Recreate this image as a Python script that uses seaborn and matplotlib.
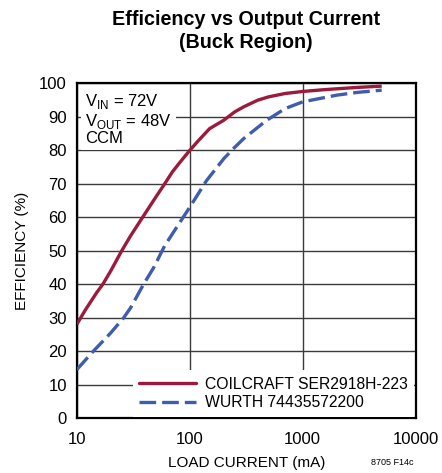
import matplotlib
matplotlib.use("Agg")
import matplotlib.pyplot as plt
import seaborn as sns
import pandas as pd

# --- Data ---
coil_ma = [10, 12, 15, 17, 20, 25, 30, 40, 50, 60, 70, 80, 100, 120, 150,
           200, 250, 300, 400, 500, 700, 1000, 1500, 2000, 3000, 5000]
coil_eff = [28, 32.5, 37.5, 40, 44, 50, 54.5, 61, 66, 70, 73.5, 76, 80, 83, 86.5,
            89, 91.5, 93, 95, 96, 97, 97.6, 98.1, 98.4, 98.8, 99.2]
wurth_ma = [10, 14, 20, 26, 30, 39, 48, 60, 80, 100, 141, 200, 243, 300, 480,
            700, 1000, 2000, 3000, 5000]
wurth_eff = [14.5, 20, 25.5, 30, 33, 40, 45, 51.5, 58, 63, 71, 77.5, 80.5, 83.5, 89,
             92.5, 94.5, 96.5, 97.3, 98]
series_names = ["COILCRAFT SER2918H-223", "WURTH 74435572200"]
x_ticks = [10, 100, 1000, 10000]
x_labels = ["10", "100", "1000", "10000"]
y_ticks = list(range(0, 101, 10))

df = pd.concat([
    pd.DataFrame({"current": coil_ma, "eff": coil_eff, "part": series_names[0]}),
    pd.DataFrame({"current": wurth_ma, "eff": wurth_eff, "part": series_names[1]}),
])

sns.set_style("white")
fam = "Liberation Sans"
plt.rcParams["font.family"] = [fam, "DejaVu Sans"]
plt.rcParams["mathtext.fontset"] = "custom"
plt.rcParams["mathtext.rm"] = fam
plt.rcParams["text.color"] = "black"
plt.rcParams["axes.labelcolor"] = "black"
plt.rcParams["xtick.color"] = "black"
plt.rcParams["ytick.color"] = "black"

fig = plt.figure(figsize=(4.42, 4.73), dpi=100)
ax = fig.add_axes([0.1735, 0.1156, 0.767, 0.708])

sns.lineplot(data=df, x="current", y="eff", hue="part", style="part",
             palette=["#9C1A3C", "#3F5DAE"], dashes=[(1, 0), (5, 1.8)],
             linewidth=2.4, ax=ax, legend=False, zorder=3)

ax.set_xscale("log")
ax.set_xlim(10, 10000)
ax.set_ylim(0, 100)
ax.set_xticks(x_ticks)
ax.set_xticklabels(x_labels)
ax.set_yticks(y_ticks)
ax.minorticks_off()
ax.grid(True, color="#3a3a3a", linewidth=1.0, zorder=0)
for s in ax.spines.values():
    s.set_color("black")
    s.set_linewidth(1.6)
ax.tick_params(axis="y", labelsize=12, length=0, pad=7)
ax.tick_params(axis="x", labelsize=12, length=0, pad=10)
ax.set_xlabel("LOAD CURRENT (mA)", fontsize=11, labelpad=6)
ax.set_ylabel("EFFICIENCY (%)", fontsize=11, labelpad=7)

fig.text(0.557, 0.978, "Efficiency vs Output Current\n(Buck Region)",
         ha="center", va="top", fontsize=14.2, fontweight="bold", linespacing=1.25)
fig.text(0.935, 0.022, "8705 F14c", ha="right", va="center", fontsize=6.5)

# annotation with white box over gridlines
ax.text(0.025, 0.975, "V$_{\\rm IN}$ = 72V\nV$_{\\rm OUT}$ = 48V\nCCM",
        transform=ax.transAxes, ha="left", va="top", fontsize=12, linespacing=1.05,
        bbox=dict(facecolor="white", edgecolor="none", pad=3), zorder=4)

handles = [plt.Line2D([], [], color="#9C1A3C", lw=2.4),
           plt.Line2D([], [], color="#3F5DAE", lw=2.4, dashes=(5, 1.8))]
leg = ax.legend(handles, series_names, loc="lower right", frameon=True,
                fontsize=11.3, handlelength=3.6, borderaxespad=0.1,
                labelspacing=0.25, handletextpad=0.6, fancybox=False)
leg.get_frame().set_edgecolor("none")
leg.get_frame().set_facecolor("white")
leg.get_frame().set_alpha(1)
leg.set_zorder(5)

fig.savefig("out.png", dpi=100)
